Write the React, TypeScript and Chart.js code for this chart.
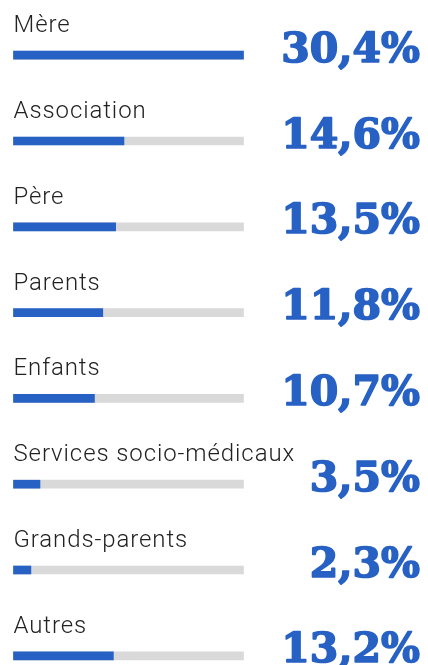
import React, { useEffect, useRef } from "react";
import { Chart, registerables } from "chart.js";

Chart.register(...registerables);

const categories = [
  "Mère",
  "Association",
  "Père",
  "Parents",
  "Enfants",
  "Services socio-médicaux",
  "Grands-parents",
  "Autres",
];
const values = [30.4, 14.6, 13.5, 11.8, 10.7, 3.5, 2.3, 13.2];
const percentLabels = ["30,4%", "14,6%", "13,5%", "11,8%", "10,7%", "3,5%", "2,3%", "13,2%"];
const trackMax = 30.4;

const BLUE = "#2761c4";
const GRAY = "#d9d9d9";

const textPlugin = {
  id: "rowText",
  afterDatasetsDraw(chart: any) {
    const { ctx } = chart;
    const yScale = chart.scales.y;
    const xScale = chart.scales.x;
    ctx.save();
    categories.forEach((cat, i) => {
      const yc = yScale.getPixelForValue(i);
      ctx.fillStyle = "#222222";
      ctx.font = "300 24px 'Roboto Light', Roboto";
      (ctx as any).letterSpacing = "0.9px";
      ctx.textAlign = "left";
      ctx.textBaseline = "alphabetic";
      ctx.fillText(cat, xScale.left, yc - 23);
      (ctx as any).letterSpacing = "0px";
      ctx.fillStyle = BLUE;
      ctx.strokeStyle = BLUE;
      ctx.lineWidth = 1.6;
      ctx.lineJoin = "round";
      ctx.font = "bold 41px 'DejaVu Serif'";
      ctx.textAlign = "right";
      ctx.fillText(percentLabels[i], 420, yc + 6.5);
      ctx.strokeText(percentLabels[i], 420, yc + 6.5);
    });
    ctx.restore();
  },
};

export default function App() {
  const ref = useRef<HTMLCanvasElement>(null);
  useEffect(() => {
    if (!ref.current) return;
    const chart = new Chart(ref.current, {
      type: "bar",
      data: {
        labels: categories,
        datasets: [
          {
            data: values,
            backgroundColor: BLUE,
            barThickness: 8,
            grouped: false,
            clip: false,
          } as any,
          {
            data: categories.map(() => trackMax),
            backgroundColor: GRAY,
            barThickness: 8,
            grouped: false,
            clip: false,
          } as any,
        ],
      },
      options: {
        indexAxis: "y",
        animation: false,
        responsive: false,
        maintainAspectRatio: false,
        layout: { padding: { left: 13.5, right: 184.5, top: 55.2, bottom: 9.2 } },
        plugins: { legend: { display: false }, tooltip: { enabled: false } },
        scales: {
          x: { display: false, min: 0, max: trackMax },
          y: { display: false, offset: false },
        },
      },
      plugins: [textPlugin],
    });
    return () => chart.destroy();
  }, []);
  return (
    <div style={{ position: "fixed", left: 0, top: 0, width: 428, height: 665, background: "#fff" }}>
      <canvas ref={ref} width={428} height={665} style={{ display: "block" }} />
    </div>
  );
}
